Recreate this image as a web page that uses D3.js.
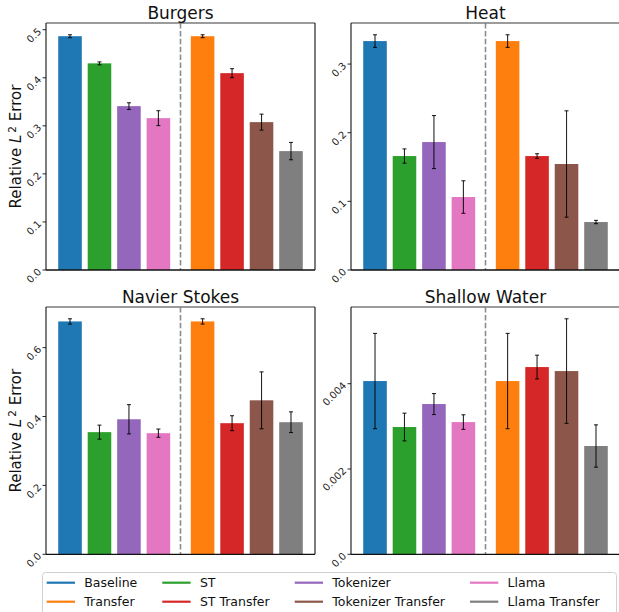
<!DOCTYPE html>
<html>
<head>
<meta charset="utf-8">
<script src="https://cdn.jsdelivr.net/npm/d3@7"></script>
<style>
  html, body { margin: 0; padding: 0; background: #fff; }
  svg { display: block; font-family: "DejaVu Sans", sans-serif; }
</style>
</head>
<body>
<svg id="chart" width="619" height="612"></svg>
<script>
// Methods in drawing order (four baselines, then their transfer variants)
const methods = ["Baseline", "ST", "Tokenizer", "Llama",
                 "Transfer", "ST Transfer", "Tokenizer Transfer", "Llama Transfer"];
const methodColors = ["#1f77b4", "#2ca02c", "#9467bd", "#e377c2",
                      "#ff7f0e", "#d62728", "#8c564b", "#7f7f7f"];

// Legend order (row-major, 4 columns)
const legendOrder = ["Baseline", "ST", "Tokenizer", "Llama",
                     "Transfer", "ST Transfer", "Tokenizer Transfer", "Llama Transfer"];

// Relative L2 error: mean and standard deviation per method
const burgersMean = [0.4865, 0.430, 0.341, 0.316, 0.4865, 0.4096, 0.3077, 0.2474];
const burgersErr  = [0.003, 0.003, 0.007, 0.0155, 0.003, 0.0094, 0.0166, 0.018];
const heatMean    = [0.3335, 0.166, 0.1864, 0.1063, 0.3335, 0.166, 0.1544, 0.0699];
const heatErr     = [0.0092, 0.0104, 0.0386, 0.0237, 0.0092, 0.0034, 0.0775, 0.0024];
const nsMean      = [0.676, 0.3546, 0.392, 0.3516, 0.676, 0.3806, 0.447, 0.3835];
const nsErr       = [0.0077, 0.0203, 0.0425, 0.012, 0.0077, 0.0217, 0.0826, 0.030];
const swMean      = [0.004062, 0.002984, 0.003523, 0.0031, 0.004062, 0.00439, 0.004296, 0.002539];
const swErr       = [0.001117, 0.000325, 0.000246, 0.000171, 0.001117, 0.000278, 0.001226, 0.000496];

// Y tick values and labels per panel
const burgersTicks = [0, 0.1, 0.2, 0.3, 0.4, 0.5];
const burgersTickLabels = ["0.0", "0.1", "0.2", "0.3", "0.4", "0.5"];
const heatTicks = [0, 0.1, 0.2, 0.3];
const heatTickLabels = ["0.0", "0.1", "0.2", "0.3"];
const nsTicks = [0, 0.2, 0.4, 0.6];
const nsTickLabels = ["0.0", "0.2", "0.4", "0.6"];
const swTicks = [0, 0.002, 0.004];
const swTickLabels = ["0.0", "0.002", "0.004"];

const panelTitles = ["Burgers", "Heat", "Navier Stokes", "Shallow Water"];

const panels = [
  { title: panelTitles[0], mean: burgersMean, err: burgersErr, ticks: burgersTicks, labels: burgersTickLabels, col: 0, row: 0 },
  { title: panelTitles[1], mean: heatMean, err: heatErr, ticks: heatTicks, labels: heatTickLabels, col: 1, row: 0 },
  { title: panelTitles[2], mean: nsMean, err: nsErr, ticks: nsTicks, labels: nsTickLabels, col: 0, row: 1 },
  { title: panelTitles[3], mean: swMean, err: swErr, ticks: swTicks, labels: swTickLabels, col: 1, row: 1 }
];

// Plot-area geometry
const colX = [[46, 315], [351, 620]];
const rowY = [[23, 270], [307, 554.3]];

const svg = d3.select("#chart");

// Bar slot along the x axis: a half-slot gap separates the transfer group
const slotOf = i => (i < 4 ? i : i + 0.5);
const barWidth = 0.8;
const lastSlot = slotOf(methods.length - 1);
const xMin = -barWidth / 2, xMax = lastSlot + barWidth / 2;
const xPad = (xMax - xMin) * 0.05;

panels.forEach(p => {
  const [x0, x1] = colX[p.col];
  const [y0, y1] = rowY[p.row];

  const x = d3.scaleLinear().domain([xMin - xPad, xMax + xPad]).range([x0, x1]);
  const top = d3.max(p.mean, (m, i) => m + p.err[i]) * 1.05;
  const y = d3.scaleLinear().domain([0, top]).range([y1, y0]);

  const g = svg.append("g");

  // Bars
  g.selectAll("rect.bar")
    .data(p.mean)
    .join("rect")
    .attr("class", "bar")
    .attr("x", (d, i) => x(slotOf(i) - barWidth / 2))
    .attr("width", (d, i) => x(slotOf(i) + barWidth / 2) - x(slotOf(i) - barWidth / 2))
    .attr("y", d => y(d))
    .attr("height", d => y(0) - y(d))
    .attr("fill", (d, i) => methodColors[i]);

  // Error bars with caps
  const cap = 2;
  const eb = g.selectAll("g.err")
    .data(p.mean)
    .join("g")
    .attr("class", "err")
    .attr("stroke", "#000")
    .attr("stroke-opacity", 0.85)
    .attr("stroke-width", 1.1);
  eb.append("line")
    .attr("x1", (d, i) => x(slotOf(i))).attr("x2", (d, i) => x(slotOf(i)))
    .attr("y1", (d, i) => y(d - p.err[i])).attr("y2", (d, i) => y(d + p.err[i]));
  eb.append("line")
    .attr("x1", (d, i) => x(slotOf(i)) - cap).attr("x2", (d, i) => x(slotOf(i)) + cap)
    .attr("y1", (d, i) => y(d - p.err[i])).attr("y2", (d, i) => y(d - p.err[i]));
  eb.append("line")
    .attr("x1", (d, i) => x(slotOf(i)) - cap).attr("x2", (d, i) => x(slotOf(i)) + cap)
    .attr("y1", (d, i) => y(d + p.err[i])).attr("y2", (d, i) => y(d + p.err[i]));

  // Dashed separator between the two groups
  const sep = (slotOf(3) + slotOf(4)) / 2;
  g.append("line")
    .attr("x1", x(sep)).attr("x2", x(sep))
    .attr("y1", y0).attr("y2", y1)
    .attr("stroke", "#8c8c8c")
    .attr("stroke-width", 1.6)
    .attr("stroke-dasharray", "5.5,2.4");

  // Spines
  g.append("line").attr("x1", x0).attr("x2", x1).attr("y1", y0).attr("y2", y0)
    .attr("stroke", "#7a7a7a").attr("stroke-width", 1.6);
  g.append("line").attr("x1", x0).attr("x2", x0).attr("y1", y0).attr("y2", y1)
    .attr("stroke", "#111").attr("stroke-width", 1.1);
  g.append("line").attr("x1", x1).attr("x2", x1).attr("y1", y0).attr("y2", y1)
    .attr("stroke", "#111").attr("stroke-width", 1.1);
  g.append("line").attr("x1", x0).attr("x2", x1).attr("y1", y1).attr("y2", y1)
    .attr("stroke", "#111").attr("stroke-width", 1.3);

  // Y ticks and rotated labels
  p.ticks.forEach((t, k) => {
    g.append("line")
      .attr("x1", x0 - 3.5).attr("x2", x0)
      .attr("y1", y(t)).attr("y2", y(t))
      .attr("stroke", "#111").attr("stroke-width", 0.9);
    g.append("text")
      .attr("transform", `translate(${x0 - 6.5},${y(t)}) rotate(-45)`)
      .attr("text-anchor", "end")
      .attr("dominant-baseline", "central")
      .attr("font-size", 10)
      .attr("fill", "#222")
      .text(p.labels[k]);
  });

  // Panel title
  g.append("text")
    .attr("x", (x0 + x1) / 2)
    .attr("y", y0 - 4)
    .attr("text-anchor", "middle")
    .attr("font-size", 17)
    .attr("fill", "#111")
    .text(p.title);

  // Y-axis label on the left column
  if (p.col === 0) {
    const lab = g.append("text")
      .attr("transform", `translate(20.5,${(y0 + y1) / 2}) rotate(-90)`)
      .attr("text-anchor", "middle")
      .attr("font-size", 15)
      .attr("fill", "#111");
    lab.append("tspan").text("Relative ");
    lab.append("tspan").attr("font-style", "italic").text("L");
    lab.append("tspan").attr("font-size", 10.5).attr("baseline-shift", "45%").text("\u2009" + "2");
    lab.append("tspan").text(" Error");
  }
});

// Legend: 4 columns, 2 rows, line handles
const legend = svg.append("g");
legend.append("rect")
  .attr("x", 42.5).attr("y", 572.5)
  .attr("width", 574).attr("height", 46)
  .attr("rx", 3).attr("ry", 3)
  .attr("fill", "#fff").attr("fill-opacity", 0.8)
  .attr("stroke", "#d0d0d0").attr("stroke-width", 1);

const nCols = 4;
const handleLen = 28.3, handlePad = 9.3, colSpacing = 25;
const rowCenters = [582.7, 601.7];
let colStart = 46.7;
for (let c = 0; c < nCols; c++) {
  const names = [legendOrder[c], legendOrder[c + nCols]];
  let maxW = 0;
  names.forEach((name, r) => {
    const ci = methods.indexOf(name);
    legend.append("line")
      .attr("x1", colStart).attr("x2", colStart + handleLen)
      .attr("y1", rowCenters[r]).attr("y2", rowCenters[r])
      .attr("stroke", methodColors[ci]).attr("stroke-width", 2.2);
    const t = legend.append("text")
      .attr("x", colStart + handleLen + handlePad)
      .attr("y", rowCenters[r])
      .attr("dominant-baseline", "central")
      .attr("font-size", 12.5)
      .attr("fill", "#111")
      .text(name);
    maxW = Math.max(maxW, t.node().getComputedTextLength());
  });
  colStart += handleLen + handlePad + maxW + colSpacing;
}
</script>
</body>
</html>
